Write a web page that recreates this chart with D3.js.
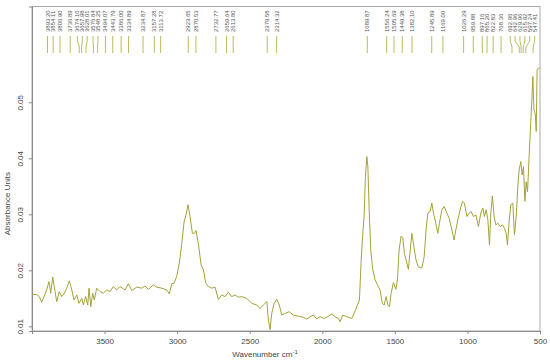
<!DOCTYPE html>
<html>
<head>
<meta charset="utf-8">
<script src="https://cdn.jsdelivr.net/npm/d3@7"></script>
<style>
  body { margin: 0; background: #fff; }
  svg { display: block; font-family: "Liberation Sans", Arial, sans-serif; }
</style>
</head>
<body>
<div id="chart"></div>
<script>
// spectrum
const wavenumber = [
  4000, 3968, 3950, 3933, 3899, 3883, 3871, 3857, 3841, 3830, 3812, 3795, 3777, 3761, 3743, 3726,
  3711, 3692, 3676, 3657, 3646, 3630, 3616, 3607, 3595, 3582, 3571, 3554, 3531, 3509, 3485, 3462,
  3440, 3416, 3394, 3359, 3336, 3313, 3278, 3244, 3221, 3198, 3164, 3141, 3106, 3072, 3054, 3037,
  3021, 3003, 2985, 2968, 2952, 2939, 2925, 2911, 2895, 2881, 2870, 2854, 2835, 2819, 2803, 2785,
  2761, 2739, 2716, 2693, 2670, 2647, 2624, 2601, 2578, 2555, 2520, 2486, 2451, 2429, 2406, 2382,
  2371, 2360, 2348, 2332, 2313, 2296, 2279, 2256, 2227, 2199, 2165, 2130, 2107, 2084, 2061, 2038,
  2015, 1988, 1958, 1934, 1912, 1889, 1877, 1859, 1831, 1797, 1781, 1762, 1744, 1732, 1721, 1712,
  1703, 1693, 1686, 1677, 1666, 1652, 1636, 1620, 1602, 1586, 1574, 1560, 1548, 1537, 1526, 1510,
  1493, 1482, 1471, 1457, 1445, 1434, 1422, 1407, 1395, 1383, 1367, 1354, 1338, 1314, 1298, 1285,
  1273, 1257, 1245, 1234, 1218, 1204, 1193, 1176, 1160, 1142, 1126, 1107, 1092, 1080, 1066, 1050,
  1034, 1021, 1004, 988, 974, 959, 942, 924, 908, 894, 883, 871, 859, 848, 839, 828,
  816, 804, 790, 775, 759, 745, 733, 724, 712, 701, 687, 676, 664, 653, 644, 632,
  623, 614, 604, 595, 586, 575, 563, 556, 549, 542, 533, 526, 520, 511, 500
];
const absorbance = [
  0.0157, 0.0157, 0.0153, 0.0143, 0.0165, 0.0180, 0.0159, 0.0188, 0.0162, 0.0144, 0.0162, 0.0153, 0.0159, 0.0168, 0.0181, 0.0165,
  0.0147, 0.0156, 0.0141, 0.0150, 0.0138, 0.0153, 0.0138, 0.0168, 0.0135, 0.0159, 0.0147, 0.0168, 0.0162, 0.0159, 0.0165, 0.0162,
  0.0171, 0.0165, 0.0171, 0.0165, 0.0176, 0.0164, 0.0170, 0.0168, 0.0172, 0.0166, 0.0174, 0.0170, 0.0168, 0.0165, 0.0158, 0.0176,
  0.0177, 0.0189, 0.0213, 0.0248, 0.0287, 0.0299, 0.0317, 0.0296, 0.0266, 0.0266, 0.0271, 0.0248, 0.0210, 0.0201, 0.0177, 0.0171,
  0.0168, 0.0170, 0.0148, 0.0156, 0.0153, 0.0161, 0.0153, 0.0156, 0.0152, 0.0153, 0.0150, 0.0141, 0.0138, 0.0132, 0.0138, 0.0144,
  0.0111, 0.0094, 0.0123, 0.0141, 0.0148, 0.0138, 0.0120, 0.0123, 0.0126, 0.0120, 0.0118, 0.0116, 0.0113, 0.0117, 0.0120, 0.0113,
  0.0117, 0.0114, 0.0118, 0.0122, 0.0117, 0.0114, 0.0108, 0.0120, 0.0117, 0.0114, 0.0123, 0.0135, 0.0147, 0.0218, 0.0266, 0.0296,
  0.0367, 0.0403, 0.0385, 0.0308, 0.0236, 0.0201, 0.0183, 0.0174, 0.0165, 0.0141, 0.0138, 0.0153, 0.0138, 0.0135, 0.0159, 0.0178,
  0.0166, 0.0183, 0.0236, 0.0261, 0.0257, 0.0230, 0.0218, 0.0202, 0.0233, 0.0266, 0.0239, 0.0218, 0.0206, 0.0204, 0.0224, 0.0272,
  0.0302, 0.0305, 0.0320, 0.0302, 0.0284, 0.0266, 0.0284, 0.0308, 0.0314, 0.0302, 0.0293, 0.0272, 0.0254, 0.0272, 0.0290, 0.0308,
  0.0323, 0.0320, 0.0296, 0.0302, 0.0305, 0.0296, 0.0299, 0.0278, 0.0302, 0.0311, 0.0296, 0.0308, 0.0290, 0.0245, 0.0302, 0.0333,
  0.0296, 0.0281, 0.0284, 0.0278, 0.0281, 0.0275, 0.0266, 0.0245, 0.0290, 0.0317, 0.0320, 0.0263, 0.0296, 0.0349, 0.0379, 0.0394,
  0.0370, 0.0385, 0.0323, 0.0358, 0.0340, 0.0403, 0.0468, 0.0504, 0.0546, 0.0486, 0.0480, 0.0448, 0.0558, 0.0561, 0.0561
];

// picked peaks shown at the top
const peakLabels = [
  '3893.20', '3854.11', '3806.90', '3736.89', '3674.10', '3657.98', '3628.01', '3576.84', '3548.25',
  '3494.07', '3443.79', '3386.00', '3334.89', '3234.87', '3157.28', '3113.72', '2923.65', '2870.53',
  '2732.77', '2659.64', '2613.80', '2379.58', '2314.32', '1689.87', '1556.24', '1505.69', '1449.38',
  '1382.10', '1245.89', '1169.00', '1026.29', '959.88', '897.16', '865.20', '822.83', '768.36',
  '692.96', '642.96', '629.96', '615.92', '597.24', '547.41'
];

const xTicks = [3500, 3000, 2500, 2000, 1500, 1000, 500];
const yTicks = [0.01, 0.02, 0.03, 0.04, 0.05];

const width = 550, height = 364;
const margin = { top: 6.5, right: 10, bottom: 33, left: 32 };
const lineColor = '#a3a33a';
const peakColor = '#bcbc62';
const textColor = '#444';
const axisColor = '#8a8a8a';

const svg = d3.select('#chart').append('svg')
  .attr('width', width)
  .attr('height', height);

const x = d3.scaleLinear()
  .domain([4000, 500])
  .range([margin.left, width - margin.right]);

const y = d3.scaleLinear()
  .domain([0.00916, 0.0671])
  .range([height - margin.bottom, margin.top]);

// frame
svg.append('rect')
  .attr('x', margin.left)
  .attr('y', margin.top)
  .attr('width', width - margin.left - margin.right)
  .attr('height', height - margin.top - margin.bottom)
  .attr('fill', 'none')
  .attr('stroke', '#aaa')
  .attr('stroke-width', 1);

// x axis
const xAxis = svg.append('g')
  .attr('transform', `translate(0,${height - margin.bottom})`)
  .call(d3.axisBottom(x).tickValues(xTicks).tickSize(3).tickPadding(4).tickFormat(d3.format('d')));
xAxis.select('.domain').attr('stroke', axisColor);
xAxis.selectAll('.tick line').attr('stroke', axisColor);
xAxis.selectAll('.tick text').attr('fill', textColor).attr('font-size', 8);

// y axis with rotated labels
const yAxis = svg.append('g')
  .attr('transform', `translate(${margin.left},0)`)
  .call(d3.axisLeft(y).tickValues(yTicks).tickSize(3).tickFormat(d3.format('.2f')));
yAxis.select('.domain').attr('stroke', axisColor);
yAxis.selectAll('.tick line').attr('stroke', axisColor);
yAxis.selectAll('.tick text')
  .attr('fill', textColor)
  .attr('font-size', 8)
  .attr('x', null).attr('dy', null)
  .attr('text-anchor', 'middle')
  .attr('transform', 'translate(-9,0) rotate(-90)');

// axis titles
svg.append('text')
  .attr('transform', `translate(10,${y(0.0319)}) rotate(-90)`)
  .attr('text-anchor', 'middle')
  .attr('font-size', 8)
  .attr('fill', textColor)
  .text('Absorbance Units');

const xTitle = svg.append('text')
  .attr('x', 265)
  .attr('y', height - 7)
  .attr('text-anchor', 'middle')
  .attr('font-size', 8)
  .attr('fill', textColor);
xTitle.append('tspan').text('Wavenumber  cm');
xTitle.append('tspan').attr('dy', -3).attr('font-size', 6).text('-1');

// spectrum
const points = wavenumber.map((w, i) => [w, absorbance[i]]);
svg.append('path')
  .datum(points)
  .attr('fill', 'none')
  .attr('stroke', lineColor)
  .attr('stroke-width', 1)
  .attr('stroke-linejoin', 'round')
  .attr('d', d3.line().x(d => x(d[0])).y(d => y(d[1])));

// peak labels: spread crowded ones apart
const gap = 4.9;
const peaks = peakLabels.map(s => ({ label: s, ideal: x(+s) }))
  .sort((a, b) => a.ideal - b.ideal);
let groups = peaks.map(p => ({ items: [p], pos: p.ideal }));
const layout = g => {
  const mean = d3.mean(g.items, d => d.ideal);
  g.start = mean - (g.items.length - 1) * gap / 2;
};
groups.forEach(layout);
let merged = true;
while (merged) {
  merged = false;
  for (let i = 0; i < groups.length - 1; i++) {
    const a = groups[i], b = groups[i + 1];
    const aEnd = a.start + (a.items.length - 1) * gap;
    if (b.start - aEnd < gap) {
      a.items = a.items.concat(b.items);
      layout(a);
      groups.splice(i + 1, 1);
      merged = true;
      break;
    }
  }
}
const maxPos = width - margin.right - 3;
groups.forEach(g => {
  const end = g.start + (g.items.length - 1) * gap;
  if (end > maxPos) g.start -= end - maxPos;
  g.items.forEach((p, i) => { p.pos = g.start + i * gap; });
});

const peakG = svg.append('g');
peakG.selectAll('path')
  .data(peaks)
  .join('path')
  .attr('fill', 'none')
  .attr('stroke', peakColor)
  .attr('stroke-width', 1)
  .attr('d', d => `M${d.pos},36L${d.pos},41L${d.ideal},47L${d.ideal},53`);

peakG.selectAll('text')
  .data(peaks)
  .join('text')
  .attr('transform', d => `translate(${d.pos + 2},32) rotate(-90)`)
  .attr('font-size', 6)
  .attr('fill', '#555')
  .text(d => d.label);
</script>
</body>
</html>
